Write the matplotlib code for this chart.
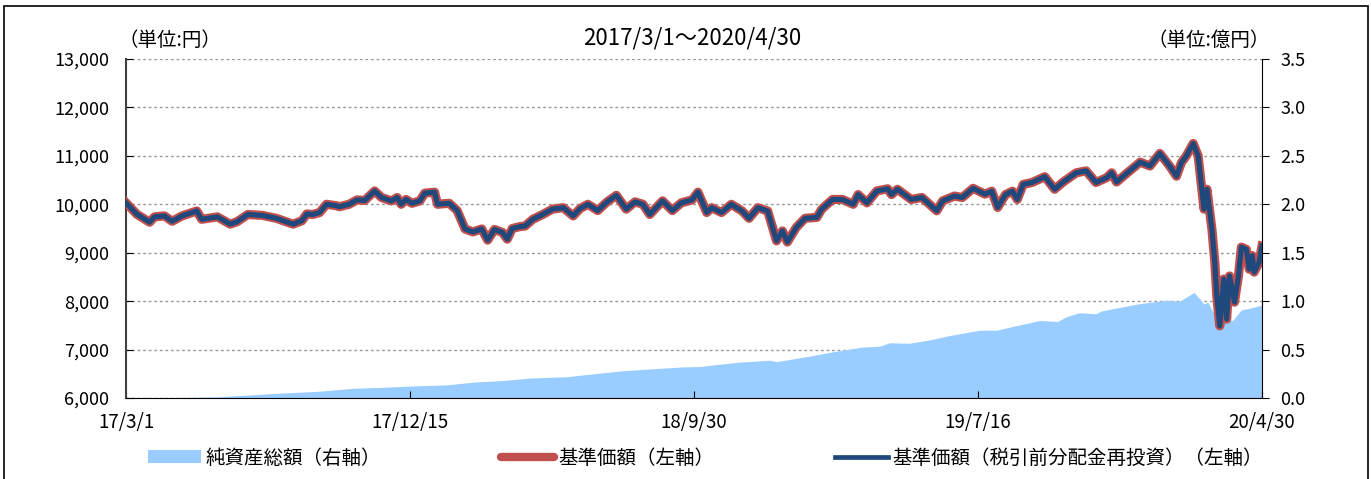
import numpy as np
import pandas as pd
import matplotlib
matplotlib.use('Agg')
import matplotlib.pyplot as plt
from matplotlib.lines import Line2D
from matplotlib.patches import Patch, Rectangle

plt.rcParams['font.family'] = ['Noto Sans CJK JP', 'DejaVu Sans']

# 基準価額 (left axis, yen)
nav_dates = [
    '2017-03-01', '2017-03-12', '2017-03-25', '2017-03-30', '2017-04-09', '2017-04-17',
    '2017-04-27', '2017-05-12', '2017-05-17', '2017-06-02', '2017-06-15', '2017-06-22',
    '2017-07-03', '2017-07-18', '2017-08-01', '2017-08-18', '2017-08-27', '2017-09-01',
    '2017-09-07', '2017-09-14', '2017-09-21', '2017-10-01', '2017-10-04', '2017-10-14',
    '2017-10-22', '2017-10-30', '2017-11-09', '2017-11-16', '2017-11-26', '2017-12-02',
    '2017-12-06', '2017-12-11', '2017-12-17', '2017-12-25', '2017-12-30', '2018-01-09',
    '2018-01-12', '2018-01-17', '2018-01-24', '2018-02-01', '2018-02-09', '2018-02-17',
    '2018-02-26', '2018-03-04', '2018-03-11', '2018-03-19', '2018-03-24', '2018-03-29',
    '2018-04-06', '2018-04-11', '2018-04-19', '2018-04-29', '2018-05-09', '2018-05-20',
    '2018-05-30', '2018-06-06', '2018-06-14', '2018-06-24', '2018-07-03', '2018-07-13',
    '2018-07-23', '2018-08-01', '2018-08-09', '2018-08-16', '2018-08-29', '2018-09-08',
    '2018-09-17', '2018-09-28', '2018-10-04', '2018-10-13', '2018-10-18', '2018-10-28',
    '2018-11-07', '2018-11-18', '2018-11-25', '2018-12-04', '2018-12-14', '2018-12-23',
    '2018-12-29', '2019-01-03', '2019-01-12', '2019-01-21', '2019-02-02', '2019-02-07',
    '2019-02-18', '2019-02-28', '2019-03-11', '2019-03-16', '2019-03-25', '2019-04-04',
    '2019-04-15', '2019-04-19', '2019-04-25', '2019-05-09', '2019-05-20', '2019-06-04',
    '2019-06-10', '2019-06-22', '2019-06-30', '2019-07-11', '2019-07-23', '2019-07-30',
    '2019-08-05', '2019-08-13', '2019-08-20', '2019-08-25', '2019-08-31', '2019-09-09',
    '2019-09-22', '2019-10-02', '2019-10-10', '2019-10-24', '2019-11-03', '2019-11-13',
    '2019-11-24', '2019-11-29', '2019-12-04', '2019-12-15', '2019-12-28', '2020-01-07',
    '2020-01-17', '2020-01-27', '2020-02-03', '2020-02-08', '2020-02-13', '2020-02-20',
    '2020-02-25', '2020-03-02', '2020-03-05', '2020-03-10', '2020-03-13', '2020-03-15',
    '2020-03-18', '2020-03-22', '2020-03-25', '2020-03-28', '2020-04-02', '2020-04-06',
    '2020-04-09', '2020-04-14', '2020-04-17', '2020-04-20', '2020-04-22', '2020-04-27',
    '2020-04-30',
]
nav_values = [
    10030, 9795, 9630, 9740, 9760, 9650,
    9760, 9862, 9690, 9740, 9590, 9640,
    9790, 9770, 9710, 9590, 9660, 9800,
    9790, 9830, 10000, 9970, 9950, 10000,
    10090, 10080, 10275, 10140, 10070, 10140,
    10000, 10100, 10020, 10070, 10230, 10250,
    10000, 10010, 10020, 9870, 9490, 9430,
    9490, 9260, 9480, 9420, 9280, 9500,
    9540, 9550, 9690, 9790, 9900, 9930,
    9760, 9910, 10000, 9870, 10040, 10185,
    9900, 10050, 10000, 9790, 10070, 9870,
    10030, 10090, 10250, 9830, 9930, 9830,
    10000, 9860, 9710, 9930, 9860, 9245,
    9450, 9220, 9520, 9710, 9730, 9900,
    10100, 10100, 10000, 10200, 10030, 10275,
    10320, 10200, 10310, 10100, 10140, 9865,
    10070, 10170, 10140, 10330, 10210, 10270,
    9935, 10200, 10270, 10100, 10410, 10450,
    10570, 10310, 10450, 10650, 10690, 10450,
    10550, 10650, 10460, 10650, 10870, 10790,
    11050, 10790, 10580, 10860, 11000, 11255,
    11000, 9900, 10310, 9490, 8800, 8100,
    7490, 8455, 7630, 8520, 7980, 8520,
    9115, 9070, 8660, 8940, 8600, 8800,
    9140,
]

# 純資産総額 (right axis, 100 million yen)
aum_dates = [
    '2017-03-01', '2017-04-15', '2017-05-02', '2017-06-04', '2017-08-04', '2017-09-04',
    '2017-09-14', '2017-10-18', '2017-11-16', '2017-12-17', '2018-01-21', '2018-02-19',
    '2018-03-19', '2018-04-16', '2018-05-24', '2018-06-18', '2018-07-18', '2018-08-16',
    '2018-09-17', '2018-10-06', '2018-10-18', '2018-11-15', '2018-12-16', '2018-12-23',
    '2019-01-24', '2019-02-20', '2019-03-20', '2019-04-07', '2019-04-17', '2019-05-07',
    '2019-05-28', '2019-06-17', '2019-07-18', '2019-08-04', '2019-08-21', '2019-09-17',
    '2019-10-05', '2019-10-14', '2019-10-27', '2019-11-13', '2019-11-19', '2019-12-25',
    '2020-01-24', '2020-02-06', '2020-02-21', '2020-03-02', '2020-03-06', '2020-03-11',
    '2020-03-18', '2020-03-25', '2020-03-31', '2020-04-09', '2020-04-19', '2020-04-30',
]
aum_values = [
    0.0, 0.003, 0.006, 0.013, 0.05, 0.065,
    0.07, 0.10, 0.11, 0.124, 0.135, 0.165,
    0.18, 0.206, 0.22, 0.248, 0.28, 0.30,
    0.32, 0.325, 0.34, 0.37, 0.39, 0.375,
    0.43, 0.48, 0.525, 0.535, 0.57, 0.565,
    0.60, 0.645, 0.70, 0.70, 0.74, 0.80,
    0.79, 0.84, 0.88, 0.87, 0.90, 0.97,
    1.01, 1.00, 1.09, 0.97, 0.99, 0.89,
    0.80, 0.82, 0.80, 0.91, 0.93, 0.96,
]

tick_dates = ['2017-03-01', '2017-12-15', '2018-09-30', '2019-07-16', '2020-04-30']
tick_labels = ['17/3/1', '17/12/15', '18/9/30', '19/7/16', '20/4/30']

nav_x = pd.to_datetime(nav_dates)
aum_x = pd.to_datetime(aum_dates)

fig = plt.figure(figsize=(13.71, 4.79), dpi=100)
ax = fig.add_axes([126 / 1371, 81 / 479, 1136 / 1371, 339 / 479])
ax2 = ax.twinx()

# area on the right axis sits underneath the price lines
ax.set_zorder(2)
ax2.set_zorder(1)
ax.patch.set_visible(False)

ax2.fill_between(aum_x, 0, aum_values, color='#99ccff', lw=0, zorder=2)
ax2.set_ylim(0, 3.5)
ax2.set_yticks(np.arange(0, 3.51, 0.5))
ax2.set_yticklabels(['%.1f' % v for v in np.arange(0, 3.51, 0.5)])
ax2.grid(axis='y', color='#999999', ls=(0, (2, 2)), lw=1, zorder=0)
ax2.set_axisbelow(True)

# 基準価額 (red, thick) with the reinvested series (navy) on top
ax.plot(nav_x, nav_values, color='#c0504d', lw=6.6, solid_joinstyle='round', zorder=3)
ax.plot(nav_x, nav_values, color='#1f497d', lw=3.7, solid_joinstyle='round', zorder=4)

ax.set_ylim(6000, 13000)
ax.set_yticks(range(6000, 13001, 1000))
ax.set_yticklabels(['{:,}'.format(v) for v in range(6000, 13001, 1000)])
ax.set_xlim(pd.Timestamp('2017-03-01'), pd.Timestamp('2020-04-30'))
ax.set_xticks(pd.to_datetime(tick_dates))
ax.set_xticklabels(tick_labels)

for a in (ax, ax2):
    a.spines['top'].set_visible(False)
ax.spines['right'].set_visible(False)
ax2.spines['left'].set_visible(False)
ax2.spines['bottom'].set_visible(False)
ax.spines['left'].set_color('#404040')
ax.spines['left'].set_linewidth(1.5)
ax.spines['bottom'].set_color('black')
ax2.spines['right'].set_color('black')

ax.tick_params(axis='y', direction='in', length=5, pad=12, labelsize=13, colors='black')
ax.tick_params(axis='x', direction='in', length=5, pad=10, labelsize=13.5)
ax2.tick_params(axis='y', direction='out', length=5, pad=8, labelsize=13)

fig.text(118 / 1371, 1 - 40 / 479, '（単位:円）', fontsize=14, ha='left', va='center')
fig.text(1270 / 1371, 1 - 40 / 479, '（単位:億円）', fontsize=14, ha='right', va='center')
fig.text(692 / 1371, 1 - 38 / 479, '2017/3/1～2020/4/30', fontsize=16, ha='center', va='center')

handles = [
    Patch(facecolor='#99ccff', edgecolor='none'),
    Line2D([], [], color='#c0504d', lw=6, solid_capstyle='round'),
    Line2D([], [], color='#1f497d', lw=3.4),
]
labels = ['純資産総額（右軸）', '基準価額（左軸）', '基準価額（税引前分配金再投資）（左軸）']
fig.legend(handles, labels, loc='center left', bbox_to_anchor=(148 / 1371, 1 - 458 / 479),
           ncol=3, frameon=False, fontsize=14, handlelength=2.7, handleheight=0.6,
           handletextpad=0.25, columnspacing=6.2, borderpad=0, borderaxespad=0)

# outer frame around the whole picture
fig.patches.append(Rectangle((4 / 1371, -0.02), 1364 / 1371, 1.02 - 6 / 479,
                             transform=fig.transFigure, fill=False, ec='black', lw=1.2))

fig.savefig('out.png', dpi=100)
